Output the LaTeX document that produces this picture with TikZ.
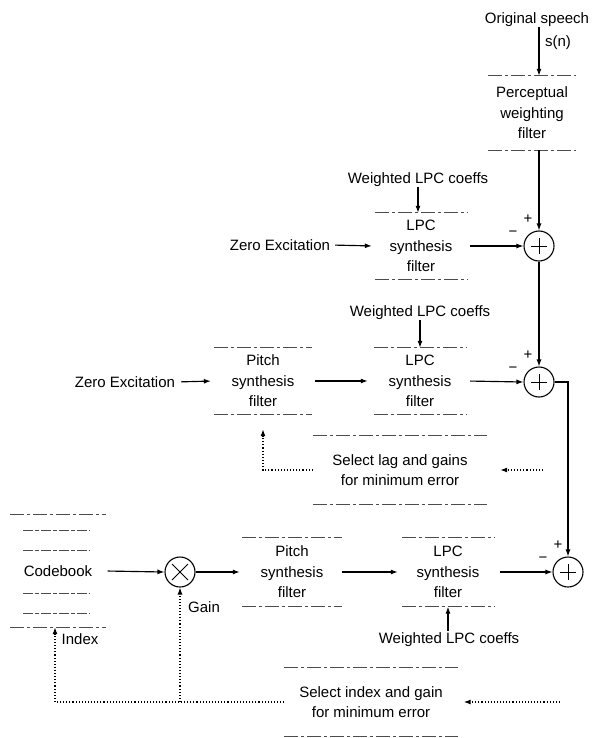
\documentclass[tikz,border=0pt]{standalone}
\usepackage{fontspec}
\setmainfont{Liberation Sans}
\usetikzlibrary{arrows.meta}
\begin{document}
\begin{tikzpicture}[x=1pt,y=-1pt,
  every node/.style={font=\fontsize{15}{20.5}\selectfont, inner sep=0pt, align=center},
  blk/.style={minimum width=92pt, minimum height=66pt},
  sumc/.style={circle, draw, line width=1.1pt, minimum size=30pt},
  sgn/.style={font=\fontsize{15}{15}\selectfont},
  arr/.style={line width=1.15pt, -{Latex[length=7pt,width=5pt]}},
  dotarr/.style={line width=1.1pt, dotted, -{Latex[length=7pt,width=5pt]}},
  dotline/.style={line width=1.1pt, dotted},
  edge/.style={line width=0.8pt, black!70, dash pattern=on 14pt off 3pt on 3pt off 3pt}
]
\path[fill=white, use as bounding box] (0,0) rectangle (591,738);

% labels
\node (os) at (537,20) {Original speech};
\node (sn) at (558,43) {s(n)};
\node (w1) at (418,180) {Weighted LPC coeffs};
\node (w2) at (420,313) {Weighted LPC coeffs};
\node (w3) at (449,640) {Weighted LPC coeffs};
\node (z1) at (280,245) {Zero Excitation};
\node (z2) at (125,382) {Zero Excitation};
\node (gain) at (204,607) {Gain};
\node (idx) at (80,639) {Index};

% boxes
\node[blk, minimum width=87pt, minimum height=74pt] (pw) at (532,113) {Perceptual\\weighting\\filter};
\node[blk] (lpc1) at (421,246) {LPC\\synthesis\\filter};
\node[blk, minimum width=98pt] (pitch2) at (263,381) {Pitch\\synthesis\\filter};
\node[blk] (lpc2) at (420,381) {LPC\\synthesis\\filter};
\node[blk, minimum width=174pt, minimum height=68pt] (sel1) at (400,470) {Select lag and gains\\for minimum error};
\node[blk, minimum width=95pt, minimum height=112pt] (cb) at (58,571) {Codebook};
\node[blk, minimum width=100pt, minimum height=69pt] (pitch3) at (292,572) {Pitch\\synthesis\\filter};
\node[blk, minimum height=69pt] (lpc3) at (448,572) {LPC\\synthesis\\filter};
\node[blk, minimum width=173pt, minimum height=69pt] (sel2) at (371,702) {Select index and gain\\for minimum error};

% box edges (top and bottom)
\foreach \b in {pw,lpc1,pitch2,lpc2,sel1,cb,pitch3,lpc3,sel2}{
  \draw[edge] (\b.north west) -- (\b.north east);
  \draw[edge] (\b.south west) -- (\b.south east);
}
% codebook entries
\foreach \yy in {530,550,593,613}{
  \draw[edge, dash pattern=on 10pt off 2pt on 4pt off 2pt] (23,\yy) -- (90,\yy);
}

% summing junctions and multiplier
\node[sumc] (s1) at (539,246) {};
\node[sumc] (s2) at (539,382) {};
\node[sumc] (s3) at (568,572) {};
\node[sumc] (m) at (180,572) {};
\foreach \s in {s1,s2,s3}{
  \draw[line width=1pt] (\s.center) ++(-8,0) -- ++(16,0);
  \draw[line width=1pt] (\s.center) ++(0,-8) -- ++(0,16);
}
\draw[line width=1pt] (m.center) ++(-8,-8) -- ++(16,16);
\draw[line width=1pt] (m.center) ++(-8,8) -- ++(16,-16);

% signs
\path (s1.center) ++(-11,-27) node[sgn] (p1) {+};
\path (s1.center) ++(-26,-12) node[sgn] (n1) {−};
\path (s2.center) ++(-11,-27) node[sgn] (p2) {+};
\path (s2.center) ++(-26,-12) node[sgn] (n2) {−};
\path (s3.center) ++(-10,-27) node[sgn] (p3) {+};
\path (s3.center) ++(-25,-12) node[sgn] (n3) {−};

% connectors: top chain
\draw[arr] (os.south -| s1) -- (pw.north -| s1);
\draw[arr] (pw.south -| s1) -- (s1.north);
\draw[arr] (w1.south) -- (w1.south |- lpc1.north);
\draw[arr, shorten <=5pt, shorten >=3pt] (z1.east) -- (lpc1.west);
\draw[arr, shorten <=3pt] (lpc1.east) -- (s1.west);
\draw[arr] (s1.south) -- (s2.north);

% second row
\draw[arr, shorten <=6pt, shorten >=3pt] (z2.east) -- (pitch2.west);
\draw[arr, shorten <=3pt, shorten >=6pt] (pitch2.east) -- (lpc2.west);
\draw[arr] (w2.south) -- (w2.south |- lpc2.north);
\draw[arr, shorten <=4pt] (lpc2.east) -- (s2.west);
\draw[arr] (s2.east) -- (s2.east -| s3) -- (s3.north);
\coordinate (fb1) at (543,470);
\draw[dotarr, shorten >=13pt] (fb1) -- (sel1.east);
\draw[dotarr, shorten >=15pt] (sel1.west) -| (pitch2.south);

% third row
\draw[arr, shorten <=2pt] (cb.east) -- (m.west);
\draw[arr, shorten >=2pt] (m.east) -- (pitch3.west);
\draw[arr, shorten >=4pt] (pitch3.east) -- (lpc3.west);
\draw[arr, shorten <=2pt] (w3.north -| lpc3) -- (lpc3.south);
\draw[arr, shorten <=6pt] (lpc3.east) -- (s3.west);

% bottom feedback
\coordinate (ib) at (55,702);
\coordinate (fb2) at (560,702);
\draw[dotline] (sel2.west) -- (ib);
\draw[dotarr] (ib) -- (ib |- cb.south);
\draw[dotarr] (m |- sel2.west) -- (m.south);
\draw[dotarr, shorten >=6pt] (fb2) -- (sel2.east);
\end{tikzpicture}
\end{document}
